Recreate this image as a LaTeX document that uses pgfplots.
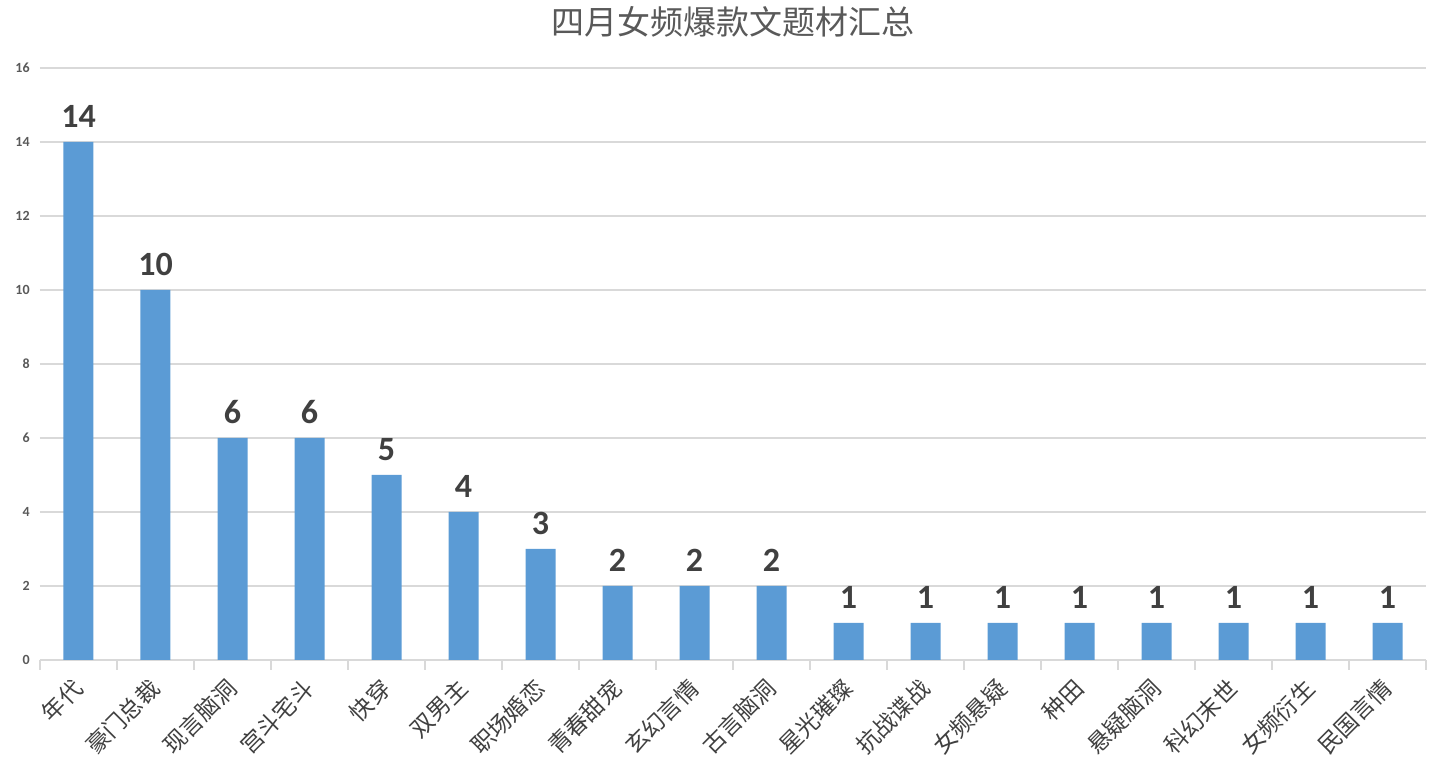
\documentclass[border=0pt]{standalone}
\usepackage{pgfplots}
\pgfplotsset{compat=1.18}
\usepackage{fontspec}
\newfontfamily\cjk{Noto Sans CJK SC}
\newfontfamily\carlito{Carlito}
\definecolor{barblue}{HTML}{5B9BD5}
\definecolor{gridgray}{HTML}{D9D9D9}
\definecolor{labelgray}{HTML}{404040}
\definecolor{titlegray}{HTML}{595959}

\begin{document}
\begin{tikzpicture}
\begin{axis}[
  scale only axis,
  width=693pt, height=296pt,
  xmin=-0.5, xmax=17.5,
  ymin=0, ymax=16,
  ytick={0,2,...,16},
  xtick={0,...,17},
  xticklabels={年代,豪门总裁,现言脑洞,宫斗宅斗,快穿,双男主,职场婚恋,青春甜宠,玄幻言情,古言脑洞,星光璀璨,抗战谍战,女频悬疑,种田,悬疑脑洞,科幻末世,女频衍生,民国言情},
  minor xtick={-0.5,0.5,...,17.5},
  major tick length=0pt,
  minor tick length=5pt,
  xtick align=outside,
  tick style={color=gridgray, line width=0.6pt},
  axis x line*=bottom,
  axis y line*=left,
  x axis line style={draw=gridgray, line width=0.6pt, -},
  y axis line style={draw=none},
  ymajorgrids,
  grid style={color=gridgray, line width=0.6pt},
  /pgf/number format/assume math mode=true,
  yticklabel style={font=\carlito\bfseries\fontsize{7}{8}\selectfont, text=titlegray, inner sep=0pt, xshift=-5pt},
  xticklabel style={font=\cjk\fontsize{11.5}{12}\selectfont, text=labelgray, inner sep=0pt, yshift=-12pt, rotate=45, anchor=east},
  title={\cjk 四月女频爆款文题材汇总},
  title style={font=\fontsize{16.5}{18}\selectfont, text=titlegray, at={(0.5,1)}, anchor=center, yshift=17pt},
]
\addplot[ybar, bar width=15pt, fill=barblue, draw=none,
  nodes near coords,
  every node near coord/.append style={font=\carlito\bfseries\fontsize{17}{18}\selectfont, text=labelgray, anchor=south, inner sep=0pt, yshift=7pt}]
coordinates {
(0,14) (1,10) (2,6) (3,6) (4,5) (5,4) (6,3) (7,2) (8,2) (9,2)
(10,1) (11,1) (12,1) (13,1) (14,1) (15,1) (16,1) (17,1)
};
\end{axis}
\pgfresetboundingbox
\useasboundingbox (-20pt,-55pt) rectangle (706.5pt,330pt);
\end{tikzpicture}
\end{document}
